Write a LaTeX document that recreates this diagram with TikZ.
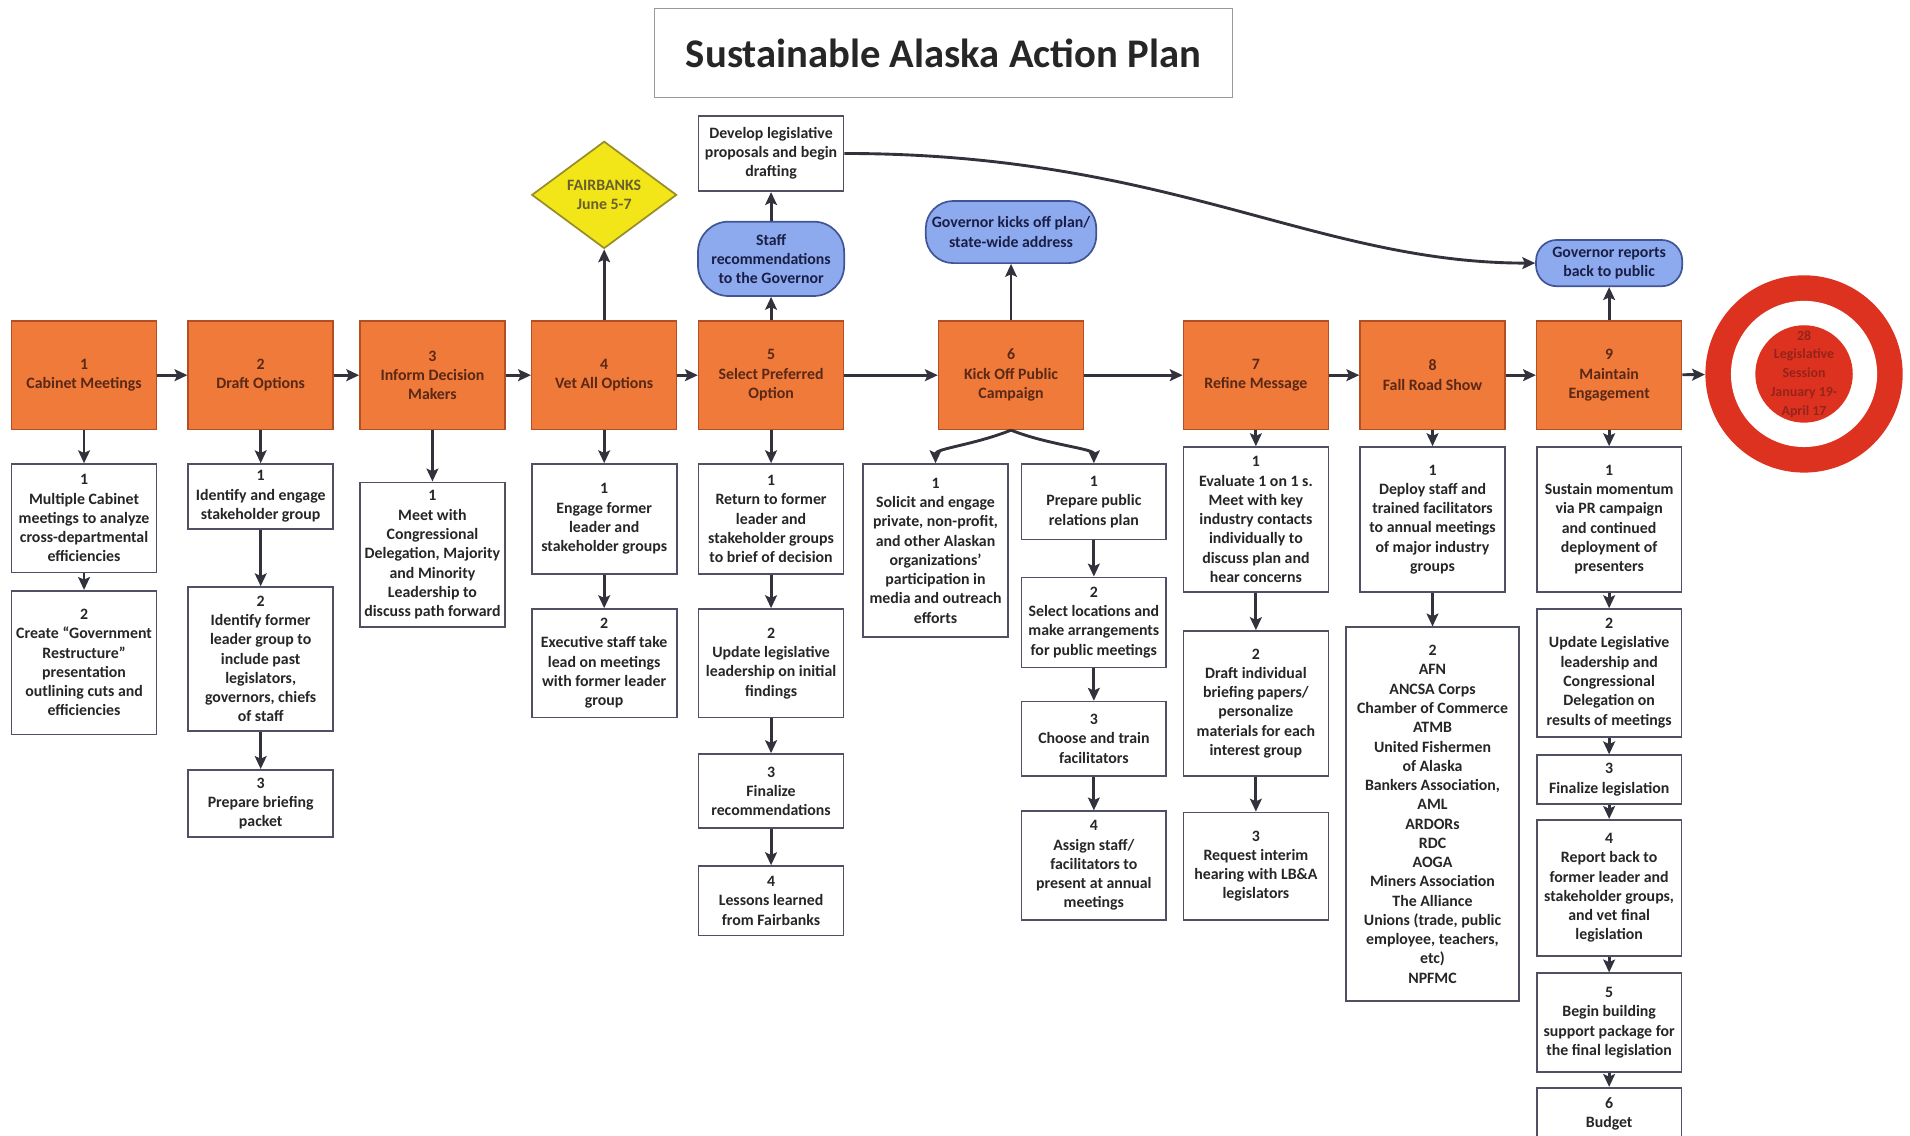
\documentclass[tikz,border=0pt]{standalone}
\usepackage{fontspec}
\setmainfont{Carlito}
\usetikzlibrary{arrows.meta,shapes.geometric}

\definecolor{phasefill}{RGB}{240,122,58}
\definecolor{phaseline}{RGB}{180,78,35}
\definecolor{phasetext}{RGB}{90,40,22}
\definecolor{eventfill}{RGB}{142,170,238}
\definecolor{eventline}{RGB}{65,85,150}
\definecolor{eventtext}{RGB}{25,30,70}
\definecolor{sitefill}{RGB}{242,230,25}
\definecolor{siteline}{RGB}{150,140,40}
\definecolor{sitetext}{RGB}{105,95,45}
\definecolor{goalred}{RGB}{222,50,32}
\definecolor{goaltext}{RGB}{150,35,25}
\definecolor{taskline}{RGB}{80,80,100}
\definecolor{linkgray}{RGB}{50,50,60}

\begin{document}
\begin{tikzpicture}[x=0.02cm,y=-0.02cm,
  every node/.style={font=\fontsize{7.4}{9}\selectfont\bfseries, align=center, inner sep=1pt},
  tall/.style={minimum height=#1*0.02cm},
  phase/.style={draw=phaseline, fill=phasefill, text=phasetext, minimum width=2.38cm, minimum height=1.78cm, line width=0.7pt},
  task/.style={draw=taskline, fill=white, text=black!85, minimum width=2.38cm, line width=0.8pt},
  event/.style={draw=eventline, fill=eventfill, text=eventtext, rounded corners=0.34cm, minimum width=2.4cm, line width=0.8pt},
  link/.style={->, >={Stealth[length=6pt, width=5.5pt, inset=1.2pt]}, line width=1.35pt, draw=linkgray}]
\useasboundingbox (0,0) rectangle (1568,932);
\clip (0,0) rectangle (1568,932);

% title
\node[draw=black!40, line width=0.5pt, minimum width=9.5cm, minimum height=1.46cm,
  font=\fontsize{19}{23}\selectfont\bfseries, text=black!85] (title) at (774.5,43.5) {Sustainable Alaska Action Plan};

% main row
\node[phase] (p1) at (69,308) {1\\Cabinet Meetings};
\node[phase] (p2) at (214,308) {2\\Draft Options};
\node[phase] (p3) at (355,308) {3\\Inform Decision\\Makers};
\node[phase] (p4) at (496,308) {4\\Vet All Options};
\node[phase] (p5) at (633,308) {5\\Select Preferred\\Option};
\node[phase] (p6) at (830,308) {6\\Kick Off Public\\Campaign};
\node[phase] (p7) at (1031,308) {7\\Refine Message};
\node[phase] (p8) at (1176,308) {8\\Fall Road Show};
\node[phase] (p9) at (1321,308) {9\\Maintain\\Engagement};

% target
\node[circle, fill=goalred, minimum size=3.24cm] (goal) at (1481,307) {};
\node[circle, fill=white, minimum size=2.4cm] at (goal) {};
\node[circle, fill=goalred, minimum size=1.6cm] at (goal) {};
\node[text=goaltext, font=\fontsize{6.5}{8.8}\selectfont\bfseries] (session) at (goal) {28\\Legislative\\Session\\January 19-\\April 17};

% events above the row
\node[diamond, aspect=1.35, draw=siteline, fill=sitefill, text=sitetext, line width=0.8pt,
  minimum width=2.38cm, minimum height=1.76cm, inner sep=0pt] (site) at (496,160) {FAIRBANKS\\June 5-7};
\node[event, tall=61, rounded corners=0.5cm] (staff) at (633,212.5) {Staff\\recommendations\\to the Governor};
\node[task, tall=62] (dev) at (633,126) {Develop legislative\\proposals and begin\\drafting};
\node[event, tall=51, minimum width=2.8cm, rounded corners=0.45cm] (kickoff) at (830,190.5) {Governor kicks off plan/\\state-wide address};
\node[event, tall=38] (report) at (1321,216) {Governor reports\\back to public};

% column 1
\node[task, tall=89] (t11) at (69,425.5) {1\\Multiple Cabinet\\meetings to analyze\\cross-departmental\\efficiencies};
\node[task, tall=118] (t12) at (69,544) {2\\Create “Government\\Restructure”\\presentation\\outlining cuts and\\efficiencies};

% column 2
\node[task, tall=53] (t21) at (214,407.5) {1\\Identify and engage\\stakeholder group};
\node[task, tall=118] (t22) at (214,541) {2\\Identify former\\leader group to\\include past\\legislators,\\governors, chiefs\\of staff};
\node[task, tall=55] (t23) at (214,659.5) {3\\Prepare briefing\\packet};

% column 3
\node[task, tall=119] (t31) at (355,455.5) {1\\Meet with\\Congressional\\Delegation, Majority\\and Minority\\Leadership to\\discuss path forward};

% column 4
\node[task, tall=90] (t41) at (496,426) {1\\Engage former\\leader and\\stakeholder groups};
\node[task, tall=89] (t42) at (496,544.5) {2\\Executive staff take\\lead on meetings\\with former leader\\group};

% column 5
\node[task, tall=90] (t51) at (633,426) {1\\Return to former\\leader and\\stakeholder groups\\to brief of decision};
\node[task, tall=89] (t52) at (633,544.5) {2\\Update legislative\\leadership on initial\\findings};
\node[task, tall=61] (t53) at (633,649.5) {3\\Finalize\\recommendations};
\node[task, tall=57] (t54) at (633,739.5) {4\\Lessons learned\\from Fairbanks};

% column 6
\node[task, tall=142] (t61) at (768,452) {1\\Solicit and engage\\private, non-profit,\\and other Alaskan\\organizations’\\participation in\\media and outreach\\efforts};
\node[task, tall=62] (t62) at (898,412) {1\\Prepare public\\relations plan};
\node[task, tall=74] (t63) at (898,511) {2\\Select locations and\\make arrangements\\for public meetings};
\node[task, tall=61] (t64) at (898,606.5) {3\\Choose and train\\facilitators};
\node[task, tall=89] (t65) at (898,710.5) {4\\Assign staff/\\facilitators to\\present at annual\\meetings};

% column 7
\node[task, tall=119] (t71) at (1031,426.5) {1\\Evaluate 1 on 1 s.\\Meet with key\\industry contacts\\individually to\\discuss plan and\\hear concerns};
\node[task, tall=119] (t72) at (1031,577.5) {2\\Draft individual\\briefing papers/\\personalize\\materials for each\\interest group};
\node[task, tall=88] (t73) at (1031,711) {3\\Request interim\\hearing with LB\&A\\legislators};

% column 8
\node[task, tall=119] (t81) at (1176,426.5) {1\\Deploy staff and\\trained facilitators\\to annual meetings\\of major industry\\groups};
\node[task, tall=307, minimum width=2.84cm] (t82) at (1176,668.5) {2\\AFN\\ANCSA Corps\\Chamber of Commerce\\ATMB\\United Fishermen\\of Alaska\\Bankers Association,\\AML\\ARDORs\\RDC\\AOGA\\Miners Association\\The Alliance\\Unions (trade, public\\employee, teachers,\\etc)\\NPFMC};

% column 9
\node[task, tall=119] (t91) at (1321,426.5) {1\\Sustain momentum\\via PR campaign\\and continued\\deployment of\\presenters};
\node[task, tall=105] (t92) at (1321,552.5) {2\\Update Legislative\\leadership and\\Congressional\\Delegation on\\results of meetings};
\node[task, tall=40] (t93) at (1321,640) {3\\Finalize legislation};
\node[task, tall=112] (t94) at (1321,729) {4\\Report back to\\former leader and\\stakeholder groups,\\and vet final\\legislation};
\node[task, tall=81] (t95) at (1321,839.5) {5\\Begin building\\support package for\\the final legislation};
\node[task, tall=43] (t96) at (1321,914.5) {6\\Budget};

% main flow
\draw[link] (p1) -- (p2);
\draw[link] (p2) -- (p3);
\draw[link] (p3) -- (p4);
\draw[link] (p4) -- (p5);
\draw[link] (p5) -- (p6);
\draw[link] (p6) -- (p7);
\draw[link] (p7) -- (p8);
\draw[link] (p8) -- (p9);
\draw[link] (p9) -- (goal);

% upward
\draw[link] (p4) -- (site);
\draw[link] (p5) -- (staff);
\draw[link] (staff) -- (dev);
\draw[link] (p6) -- (kickoff);
\draw[link] (p9) -- (report);
\draw[link] (dev.east) .. controls (960,126) and (1080,216) .. (report.west);

% downward
\draw[link] (p1) -- (t11);
\draw[link] (t11) -- (t12);
\draw[link] (p2) -- (t21);
\draw[link] (t21) -- (t22);
\draw[link] (t22) -- (t23);
\draw[link] (p3) -- (t31);
\draw[link] (p4) -- (t41);
\draw[link] (t41) -- (t42);
\draw[link] (p5) -- (t51);
\draw[link] (t51) -- (t52);
\draw[link] (t52) -- (t53);
\draw[link] (t53) -- (t54);
\draw[link] (p6.south) .. controls +(-30,12) and +(0,-12) .. (t61.north);
\draw[link] (p6.south) .. controls +(30,12) and +(0,-12) .. (t62.north);
\draw[link] (t62) -- (t63);
\draw[link] (t63) -- (t64);
\draw[link] (t64) -- (t65);
\draw[link] (p7) -- (t71);
\draw[link] (t71) -- (t72);
\draw[link] (t72) -- (t73);
\draw[link] (p8) -- (t81);
\draw[link] (t81) -- (t82);
\draw[link] (p9) -- (t91);
\draw[link] (t91) -- (t92);
\draw[link] (t92) -- (t93);
\draw[link] (t93) -- (t94);
\draw[link] (t94) -- (t95);
\draw[link] (t95) -- (t96);
\end{tikzpicture}
\end{document}
